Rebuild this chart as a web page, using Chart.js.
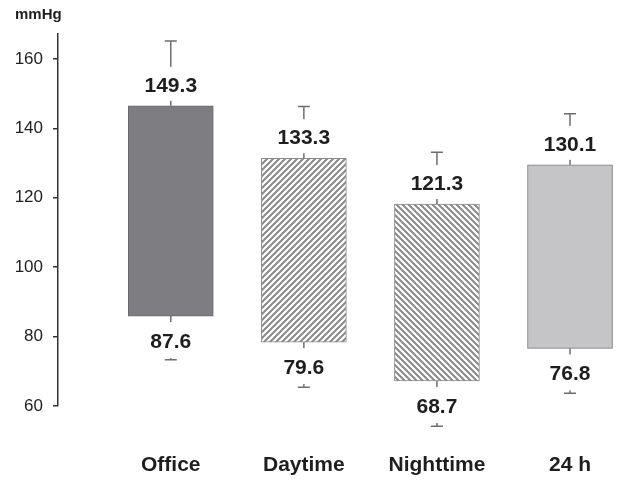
<!DOCTYPE html>
<html>
<head>
<meta charset="utf-8">
<script src="https://cdn.jsdelivr.net/npm/chart.js@4/dist/chart.umd.min.js"></script>
<style>
  html, body { margin: 0; padding: 0; background: #fff; }
  #wrap { width: 620px; height: 484px; position: relative; }
</style>
</head>
<body>
<div id="wrap"><canvas id="bpChart"></canvas></div>
<script>
// categories and values
const categories = ["Office", "Daytime", "Nighttime", "24 h"];
const barLow  = [85.9, 78.4, 67.2, 76.6];     // bottom of each box
const barHigh = [146.5, 131.4, 118.2, 129.5]; // top of each box
const whiskerHigh = [165.2, 146.3, 133.1, 144.2];
const whiskerLow  = [73.3, 65.4, 54.2, 63.7];
const labelHigh = ["149.3", "133.3", "121.3", "130.1"];
const labelLow  = ["87.6", "79.6", "68.7", "76.8"];
const yTicks = [60, 80, 100, 120, 140, 160];

const FONT = "'Liberation Sans', Arial, Helvetica, sans-serif";

function makeHatch(dir) {
    const s = 6;
    const c = document.createElement("canvas");
    c.width = s; c.height = s;
    const g = c.getContext("2d");
    g.fillStyle = "#fff";
    g.fillRect(0, 0, s, s);
    g.strokeStyle = "#8a8a8a";
    g.lineWidth = 2;
    g.beginPath();
    if (dir === "/") {
        g.moveTo(-1, s + 1); g.lineTo(s + 1, -1);
        g.moveTo(-2, 2); g.lineTo(2, -2);
        g.moveTo(s - 2, s + 2); g.lineTo(s + 2, s - 2);
    } else {
        g.moveTo(-1, -1); g.lineTo(s + 1, s + 1);
        g.moveTo(-2, s - 2); g.lineTo(2, s + 2);
        g.moveTo(s - 2, -2); g.lineTo(s + 2, 2);
    }
    g.stroke();
    return g.createPattern(c, "repeat");
}

const fills = ["#7d7d82", makeHatch("/"), makeHatch("\\"), "#c5c5c7"];
const borders = ["#6a6a6e", "#8a8a8a", "#8a8a8a", "#7a7a7c"];

// whiskers and value labels with white boxes
const boxLabels = {
    id: "boxLabels",
    afterDatasetsDraw(chart) {
        const ctx = chart.ctx;
        const x = chart.scales.x, y = chart.scales.y;
        ctx.save();
        categories.forEach((c, i) => {
            const px = x.getPixelForValue(i);
            const top = y.getPixelForValue(barHigh[i]);
            const bot = y.getPixelForValue(barLow[i]);
            const wt = y.getPixelForValue(whiskerHigh[i]);
            const wb = y.getPixelForValue(whiskerLow[i]);

            ctx.strokeStyle = "#6e6e6e";
            ctx.lineWidth = 1.5;
            ctx.beginPath();
            ctx.moveTo(px, top); ctx.lineTo(px, wt);
            ctx.moveTo(px - 6, wt); ctx.lineTo(px + 6, wt);
            ctx.moveTo(px, bot); ctx.lineTo(px, wb);
            ctx.moveTo(px - 6, wb); ctx.lineTo(px + 6, wb);
            ctx.stroke();

            const ly1 = top - 20;
            const ly2 = bot + 26;
            ctx.fillStyle = "#fff";
            ctx.fillRect(px - 44, ly1 - 19, 88, 34);
            ctx.fillRect(px - 44, ly2 - 20, 88, 36);

            ctx.fillStyle = "#1e1e1e";
            ctx.font = "bold 21px " + FONT;
            ctx.textAlign = "center";
            ctx.textBaseline = "middle";
            ctx.fillText(labelHigh[i], px, ly1);
            ctx.fillText(labelLow[i], px, ly2);
        });

        ctx.fillStyle = "#1e1e1e";
        ctx.font = "bold 15px " + FONT;
        ctx.textAlign = "left";
        ctx.textBaseline = "middle";
        ctx.fillText("mmHg", 15, 15);
        ctx.restore();
    }
};

new Chart(document.getElementById("bpChart"), {
    type: "bar",
    data: {
        datasets: [{
            data: categories.map((c, i) => ({ x: i, y: [barLow[i], barHigh[i]] })),
            backgroundColor: fills,
            borderColor: borders,
            borderWidth: 1,
            borderSkipped: false,
            barThickness: 85
        }]
    },
    options: {
        responsive: true,
        maintainAspectRatio: false,
        animation: false,
        layout: { padding: { top: 34, right: 5, left: 0, bottom: 0 } },
        plugins: {
            legend: { display: false },
            tooltip: { enabled: false }
        },
        scales: {
            x: {
                type: "linear",
                offset: false,
                min: -0.8475,
                max: 3.338,
                grid: { display: false, drawTicks: false },
                border: { display: false },
                afterBuildTicks: scale => {
                    scale.ticks = categories.map((c, i) => ({ value: i }));
                },
                afterFit: scale => {
                    scale.height = 78;
                    scale.paddingLeft = 0;
                    scale.paddingRight = 0;
                },
                ticks: {
                    padding: 47,
                    color: "#1e1e1e",
                    font: { family: FONT, size: 21, weight: "bold" },
                    callback: v => categories[v]
                }
            },
            y: {
                min: 60,
                max: 167.2,
                grid: { drawOnChartArea: false, tickLength: 5, color: "#333", lineWidth: 1.5 },
                border: { display: true, color: "#333", width: 1.5 },
                afterBuildTicks: scale => {
                    scale.ticks = yTicks.map(v => ({ value: v }));
                },
                afterFit: scale => { scale.width = 58; },
                ticks: {
                    padding: 10,
                    color: "#222",
                    font: { family: FONT, size: 17 }
                }
            }
        }
    },
    plugins: [boxLabels]
});
</script>
</body>
</html>
